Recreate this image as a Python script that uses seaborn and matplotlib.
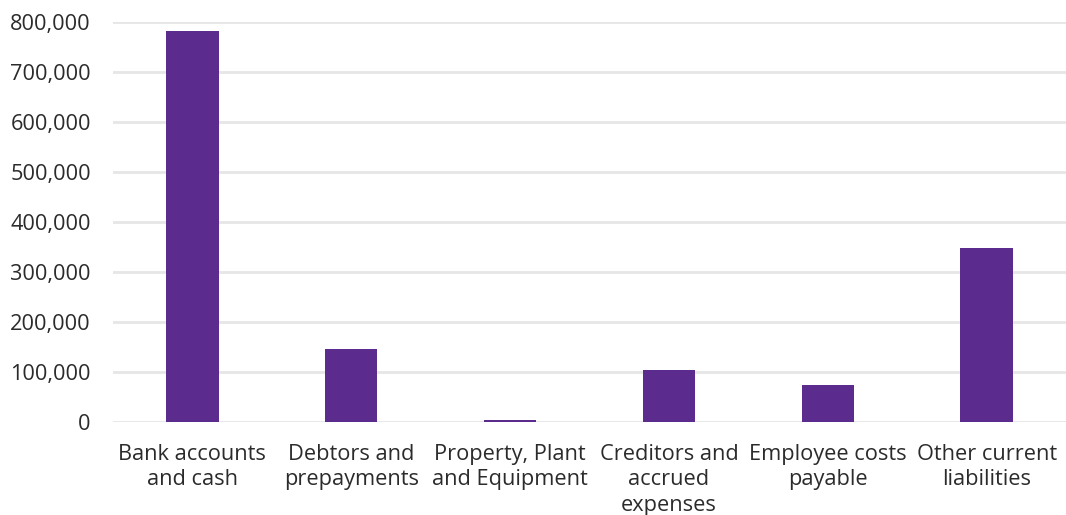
import matplotlib
matplotlib.use("Agg")
import matplotlib.pyplot as plt
import matplotlib.ticker as mticker
import pandas as pd
import seaborn as sns

categories = [
    "Bank accounts\nand cash",
    "Debtors and\nprepayments",
    "Property, Plant\nand Equipment",
    "Creditors and\naccrued\nexpenses",
    "Employee costs\npayable",
    "Other current\nliabilities",
]
values = [783000, 146000, 3000, 104000, 74000, 348000]
y_ticks = [0, 100000, 200000, 300000, 400000, 500000, 600000, 700000, 800000]

sns.set_theme(style="white")
plt.rcParams["font.family"] = ["Open Sans", "DejaVu Sans"]

df = pd.DataFrame({"category": categories, "value": values})

fig = plt.figure(figsize=(10.66, 5.15), dpi=100)
ax = fig.add_axes([0.106, 0.181, 0.894, 0.776])

sns.barplot(data=df, x="category", y="value", color="#5B2C8D",
            width=0.33, saturation=1, linewidth=0, ax=ax, zorder=3)

ax.set_ylim(0, 800000)
ax.set_yticks(y_ticks)
ax.yaxis.set_major_formatter(mticker.FuncFormatter(lambda v, p: f"{int(v):,}"))
ax.set_xlim(-0.5, len(categories) - 0.5)
ax.grid(axis="y", color="#e6e6e6", linewidth=2, zorder=0)
ax.set_axisbelow(True)
for s in ax.spines.values():
    s.set_visible(False)
ax.set_xlabel("")
ax.set_ylabel("")
ax.tick_params(axis="both", length=0, labelsize=15.7, colors="#2b2b2b")
ax.tick_params(axis="y", pad=16)
ax.tick_params(axis="x", pad=16)
for lbl in ax.get_xticklabels():
    lbl.set_linespacing(1.28)

fig.savefig("out.png", dpi=100)
